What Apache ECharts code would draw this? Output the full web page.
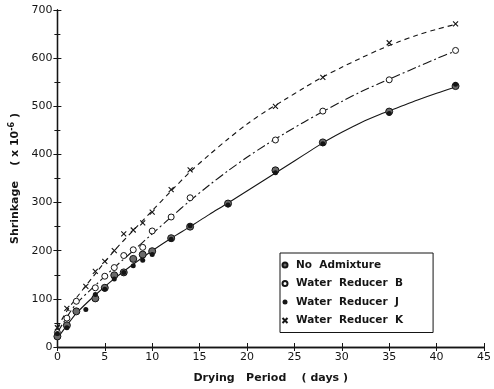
<!DOCTYPE html>
<html><head><meta charset="utf-8">
<script src="https://cdn.jsdelivr.net/npm/echarts@6/dist/echarts.min.js"></script>
<style>html,body{margin:0;padding:0;background:#fff}#c{width:494px;height:389px}</style>
</head><body><div id="c"></div>
<script>
// Measured points (days, shrinkage x10^-6); null = no point at that day
const days = [0, 1, 2, 3, 4, 5, 6, 7, 8, 9, 10, 12, 14, 18, 23, 28, 35, 42];
const noAdmixture = [22, 45, 74, null, 101, 123, 149, 155, 183, 192, 199, 226, 250, 298, 367, 425, 489, 542];
const reducerB    = [30, 60, 95, null, 123, 147, 165, 190, 202, 207, 241, 270, 310, null, 430, 490, 555, 616];
const reducerJ    = [28, 40, null, 78, 109, 120, 141, 155, 169, 180, 192, 224, 252, 295, 362, 422, 485, 546];
const reducerK    = [40, 80, null, 126, 157, 178, 200, 235, 243, 258, 280, 327, 368, null, 500, 560, 632, 671];

// Fitted curves (every 2 days)
const fitDays = [0, 1, 2, 4, 6, 8, 10, 12, 14, 16, 18, 20, 22, 24, 26, 28, 30, 32, 34, 36, 38, 40, 42];
const fitNaJ  = [18, 45, 70, 108, 142, 172, 200, 226, 250, 275, 299, 324, 349, 374, 399, 424, 446, 466, 483, 498, 513, 527, 540];
const fitB    = [30, 62, 90, 128, 165, 200, 235, 270, 304, 336, 366, 394, 420, 444, 467, 489, 510, 530, 548, 565, 582, 599, 615];
const fitK    = [40, 75, 102, 152, 200, 242, 283, 324, 364, 399, 432, 463, 490, 514, 538, 561, 581, 600, 618, 634, 648, 660, 670];

const seriesNames = ['No  Admixture', 'Water  Reducer  B', 'Water  Reducer  J', 'Water  Reducer  K'];
const xTicks = { min: 0, max: 45, interval: 5 };
const yTicks = { min: 0, max: 700, interval: 100 };

const INK = '#151515';
const FONT = 'DejaVu Sans';
const pairs = (xs, ys) => xs.map((x, i) => ys[i] == null ? null : [x, ys[i]]).filter(p => p);

const chart = echarts.init(document.getElementById('c'), null, { renderer: 'canvas' });
const axisCommon = {
  type: 'value',
  axisLine: { show: true, lineStyle: { color: INK, width: 1.3 } },
  axisTick: { show: true, inside: true, length: 4, lineStyle: { color: INK, width: 1 } },
  splitLine: { show: false },
  axisLabel: { color: INK, fontFamily: FONT, fontSize: 11 }
};
const xSpan = { min: xTicks.min, max: xTicks.max, interval: xTicks.interval };
const ySpan = { min: yTicks.min, max: yTicks.max, interval: yTicks.interval };

chart.setOption({
  animation: false,
  backgroundColor: '#fff',
  grid: { left: 53, right: 3, top: 10, bottom: 37 },
  xAxis: [
    Object.assign({}, axisCommon, xSpan, {
      position: 'bottom',
      name: 'Drying   Period    ( days )',
      nameLocation: 'middle', nameGap: 26,
      nameTextStyle: { color: INK, fontFamily: FONT, fontSize: 11, fontWeight: 'bold' },
      axisLabel: Object.assign({}, axisCommon.axisLabel, { margin: 5 })
    }),
    Object.assign({}, axisCommon, xSpan, { position: 'top', axisLabel: { show: false } })
  ],
  yAxis: [
    Object.assign({}, axisCommon, ySpan, {
      position: 'left',
      minorTick: { show: true, splitNumber: 2, length: 3, lineStyle: { color: INK } },
      name: 'Shrinkage    ( x 10{sup|-6} )',
      nameLocation: 'middle', nameGap: 35, nameRotate: 90,
      nameTextStyle: { color: INK, fontFamily: FONT, fontSize: 11, fontWeight: 'bold',
        rich: { sup: { fontSize: 8, fontFamily: FONT, fontWeight: 'bold', color: INK, verticalAlign: 'top', padding: [0, 0, 6, 0] } } },
      axisLabel: Object.assign({}, axisCommon.axisLabel, { margin: 5 })
    }),
    Object.assign({}, axisCommon, ySpan, {
      position: 'right', axisLabel: { show: false },
      minorTick: { show: true, splitNumber: 2, length: 3, lineStyle: { color: INK } }
    })
  ],
  legend: {
    data: seriesNames,
    orient: 'vertical', left: 280, top: 253,
    padding: [5, 30, 5, 0],
    itemWidth: 12, itemHeight: 5, itemGap: 4.5,
    borderColor: INK, borderWidth: 1, backgroundColor: '#fff',
    textStyle: { color: INK, fontFamily: FONT, fontSize: 10.5, fontWeight: 'bold', lineHeight: 14 }
  },
  series: [
    { type: 'line', name: 'fitNaJ', data: pairs(fitDays, fitNaJ), smooth: 0.3, showSymbol: false, silent: true,
      lineStyle: { color: INK, width: 1.1 }, z: 1 },
    { type: 'line', name: 'fitB', data: pairs(fitDays, fitB), smooth: 0.3, showSymbol: false, silent: true,
      lineStyle: { color: INK, width: 1.1, type: [9, 3, 2, 3] }, z: 1 },
    { type: 'line', name: 'fitK', data: pairs(fitDays, fitK), smooth: 0.3, showSymbol: false, silent: true,
      lineStyle: { color: INK, width: 1.1, type: [5, 4] }, z: 1 },
    { type: 'scatter', name: seriesNames[0], data: pairs(days, noAdmixture), symbol: 'circle', symbolSize: 7,
      itemStyle: { color: '#6a6a6a', borderColor: INK, borderWidth: 1, opacity: 1 }, z: 3 },
    { type: 'scatter', name: seriesNames[1], data: pairs(days, reducerB), symbol: 'circle', symbolSize: 6,
      itemStyle: { color: '#fff', borderColor: INK, borderWidth: 1, opacity: 1 }, z: 3 },
    { type: 'scatter', name: seriesNames[2], data: pairs(days, reducerJ), symbol: 'circle', symbolSize: 5,
      itemStyle: { color: INK, borderColor: INK, borderWidth: 0, opacity: 1 }, z: 4 },
    { type: 'scatter', name: seriesNames[3], data: pairs(days, reducerK), symbol: 'path://M0,0L10,10M0,10L10,0', symbolSize: 5,
      itemStyle: { color: 'none', borderColor: INK, borderWidth: 1.1, opacity: 1 }, z: 3 }
  ]
});
</script></body></html>
